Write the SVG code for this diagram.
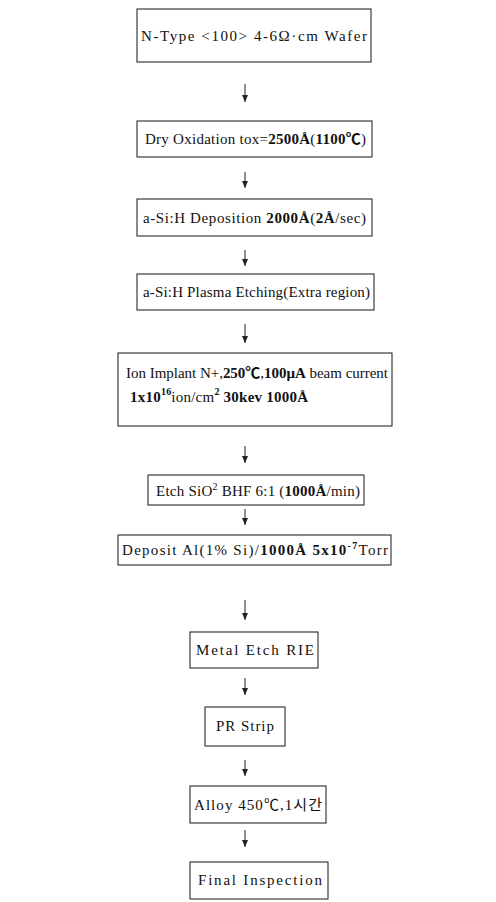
<svg xmlns="http://www.w3.org/2000/svg" width="496" height="902" viewBox="0 0 496 902">
<defs>
<style>
.box{fill:#fff;stroke:#2a2a2a;stroke-width:1.1}
.t{font-family:"Liberation Serif","Noto Sans CJK KR",serif;font-size:15px;fill:#111}
.n{font-weight:bold}
.s{font-size:10px}
.c{stroke:#222;stroke-width:1;fill:none}
</style>
<marker id="ah" markerWidth="7" markerHeight="6" refX="7" refY="3" orient="auto" markerUnits="userSpaceOnUse">
<path d="M0,0 L7,3 L0,6 z" fill="#222"/>
</marker>
</defs>
<rect width="496" height="902" fill="#fff"/>
<g id="connectors">
<line class="c" x1="245" y1="84" x2="245" y2="102" marker-end="url(#ah)"/>
<line class="c" x1="245" y1="172" x2="245" y2="188" marker-end="url(#ah)"/>
<line class="c" x1="245" y1="250" x2="245" y2="266" marker-end="url(#ah)"/>
<line class="c" x1="245" y1="324" x2="245" y2="343" marker-end="url(#ah)"/>
<line class="c" x1="245" y1="446" x2="245" y2="463" marker-end="url(#ah)"/>
<line class="c" x1="245" y1="509" x2="245" y2="525" marker-end="url(#ah)"/>
<line class="c" x1="245" y1="600" x2="245" y2="620" marker-end="url(#ah)"/>
<line class="c" x1="245" y1="678" x2="245" y2="695" marker-end="url(#ah)"/>
<line class="c" x1="245" y1="760" x2="245" y2="776" marker-end="url(#ah)"/>
<line class="c" x1="245" y1="830" x2="245" y2="847" marker-end="url(#ah)"/>
</g>
<g id="n1"><rect class="box" x="137" y="9" width="234" height="53"/>
<text class="t" x="141" y="41" textLength="226" lengthAdjust="spacing">N-Type &lt;100&gt; 4-6Ω·cm Wafer</text></g>
<g id="n2"><rect class="box" x="137" y="121" width="235" height="36"/>
<text class="t" x="145" y="144" textLength="221" lengthAdjust="spacing">Dry Oxidation tox=<tspan class="n">2500Å</tspan>(<tspan class="n">1100℃</tspan>)</text></g>
<g id="n3"><rect class="box" x="137" y="199" width="235" height="37"/>
<text class="t" x="143" y="223" textLength="223" lengthAdjust="spacing">a-Si:H Deposition <tspan class="n">2000Å</tspan>(<tspan class="n">2Å</tspan>/sec)</text></g>
<g id="n4"><rect class="box" x="137" y="274" width="237" height="36"/>
<text class="t" x="143" y="297" textLength="227" lengthAdjust="spacing">a-Si:H Plasma Etching(Extra region)</text></g>
<g id="n5"><rect class="box" x="118" y="353" width="274" height="73"/>
<text class="t" x="126" y="378" textLength="262" lengthAdjust="spacing">Ion Implant N+,<tspan class="n">250℃</tspan>,<tspan class="n">100μA</tspan> beam current</text>
<text class="t" x="130" y="402" textLength="178" lengthAdjust="spacing"><tspan class="n">1x10</tspan><tspan class="n s" dy="-7">16</tspan><tspan dy="7">ion/cm</tspan><tspan class="n s" dy="-7">2</tspan><tspan class="n" dy="7"> 30kev 1000Å</tspan></text></g>
<g id="n6"><rect class="box" x="148" y="475" width="216" height="30"/>
<text class="t" x="156" y="496" textLength="204" lengthAdjust="spacing">Etch SiO<tspan class="s" dy="-6">2</tspan><tspan dy="6"> BHF 6:1 (</tspan><tspan class="n">1000Å</tspan>/min)</text></g>
<g id="n7"><rect class="box" x="118" y="535" width="273" height="30"/>
<text class="t" x="122" y="555" textLength="266" lengthAdjust="spacing">Deposit Al(1% Si)/<tspan class="n">1000Å 5x10</tspan><tspan class="n s" dy="-6">-7</tspan><tspan dy="6">Torr</tspan></text></g>
<g id="n8"><rect class="box" x="190" y="632" width="128" height="36"/>
<text class="t" x="196" y="655" textLength="118" lengthAdjust="spacing">Metal Etch RIE</text></g>
<g id="n9"><rect class="box" x="205" y="707" width="80" height="39"/>
<text class="t" x="216" y="731" textLength="58" lengthAdjust="spacing">PR Strip</text></g>
<g id="n10"><rect class="box" x="190" y="786" width="136" height="37"/>
<text class="t" x="194" y="810" textLength="128" lengthAdjust="spacing">Alloy 450℃,1시간</text></g>
<g id="n11"><rect class="box" x="190" y="862" width="138" height="37"/>
<text class="t" x="198" y="885" textLength="124" lengthAdjust="spacing">Final Inspection</text></g>
</svg>
